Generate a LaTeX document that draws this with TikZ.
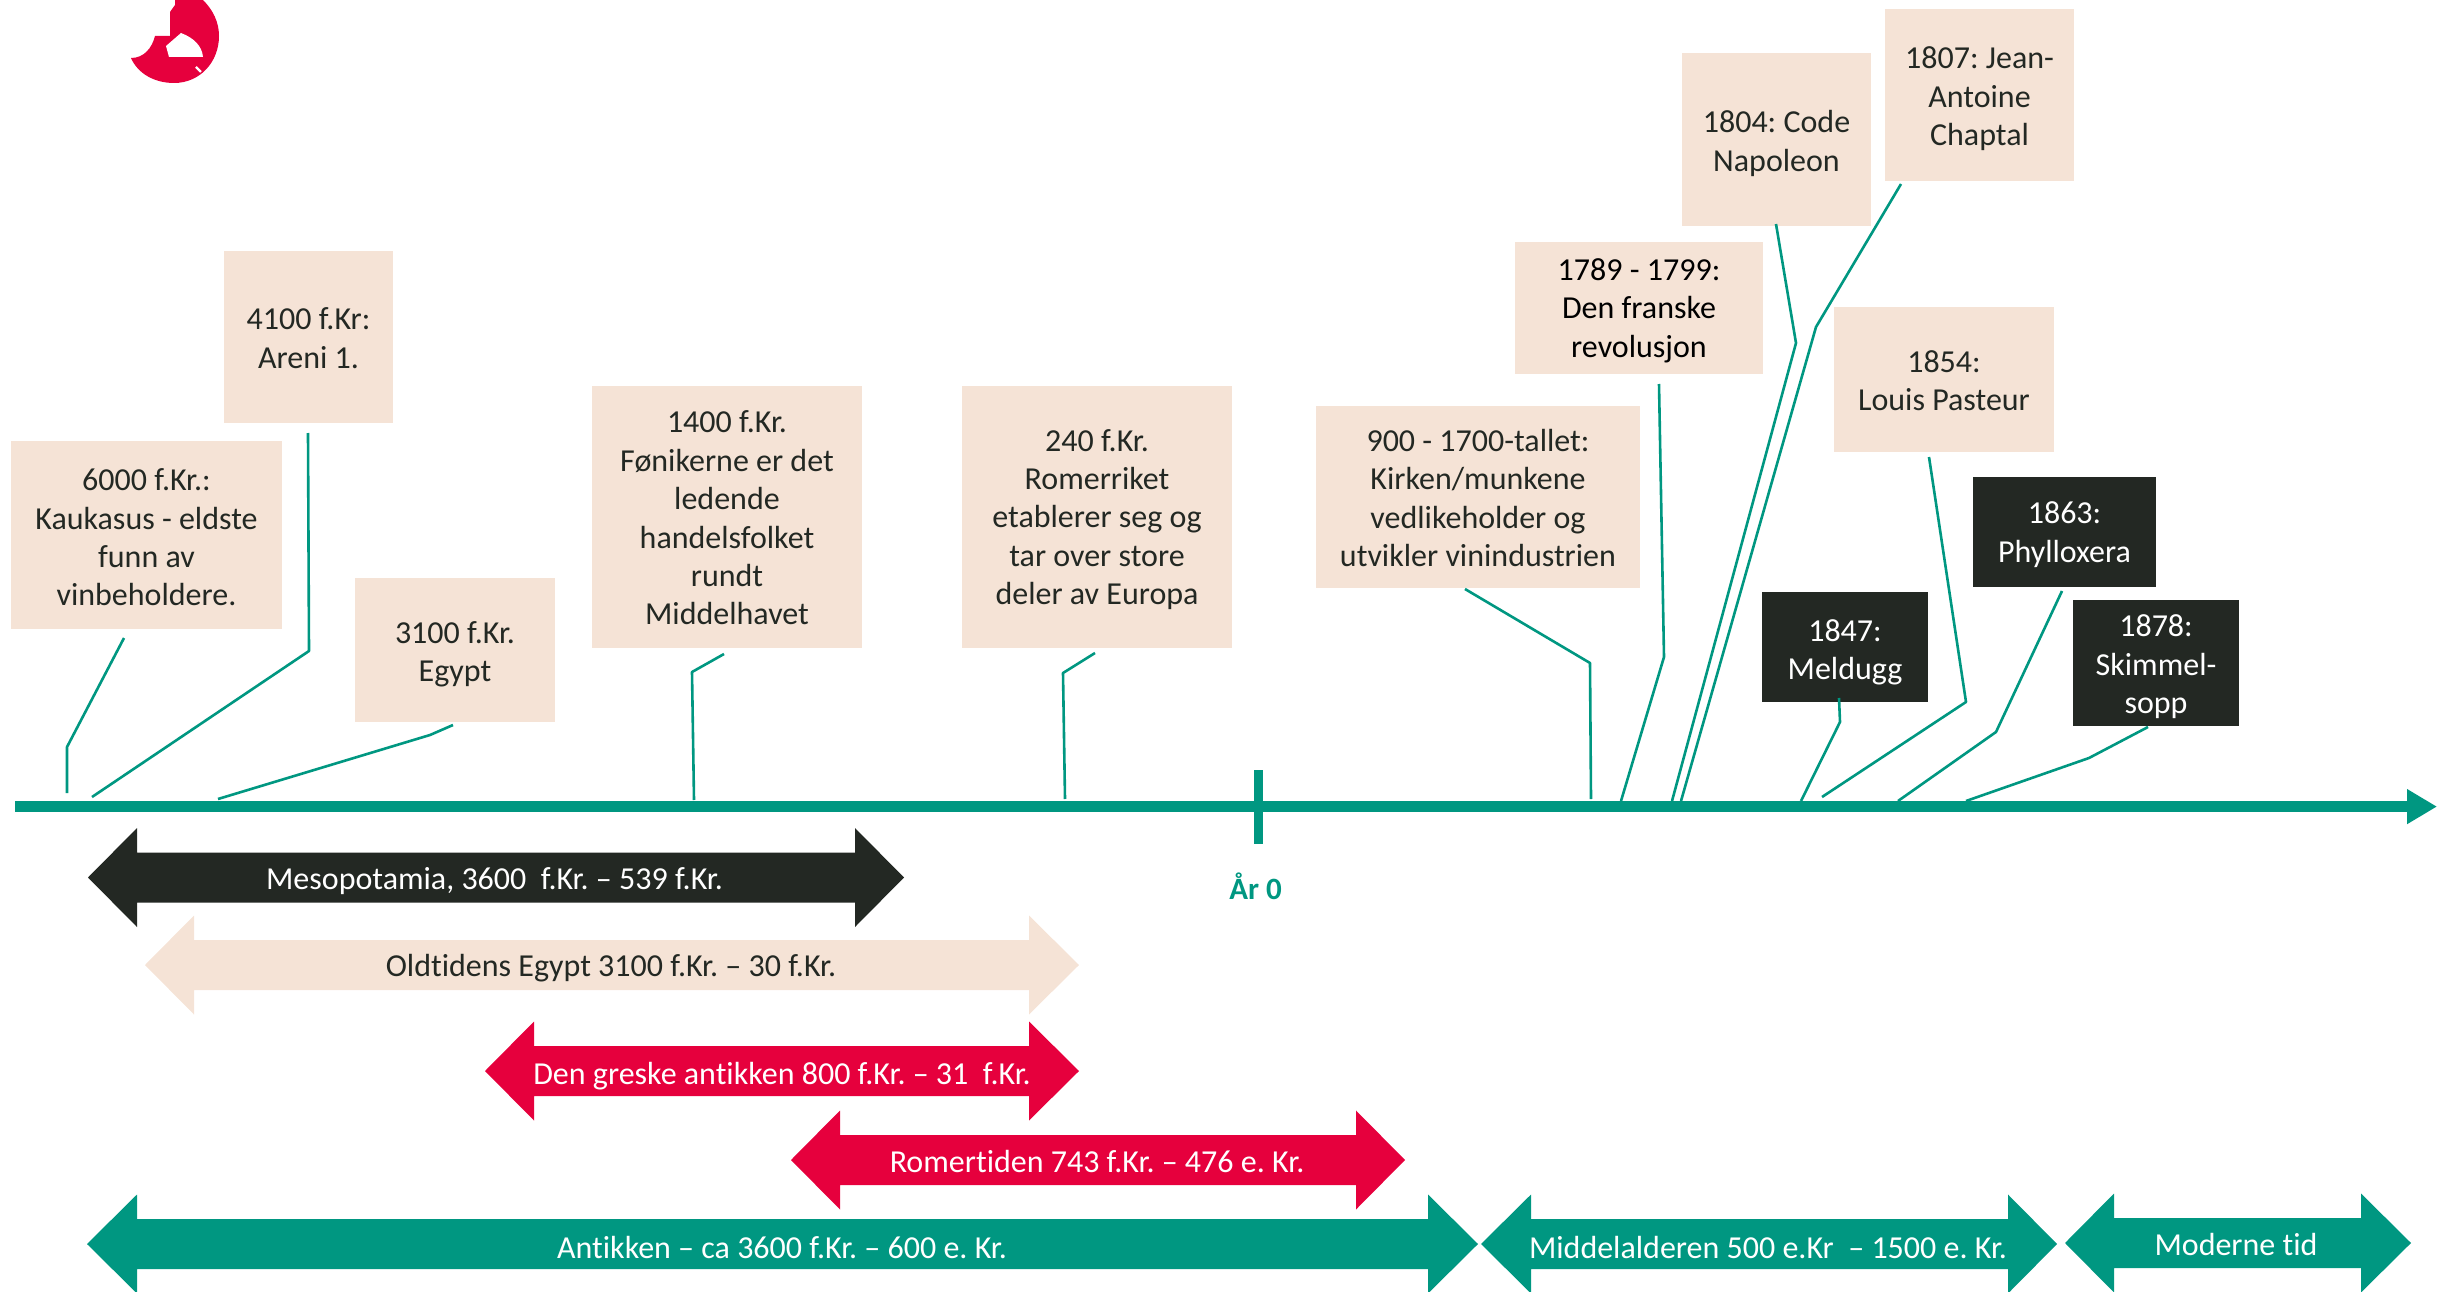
\documentclass[tikz,border=0pt]{standalone}
\usepackage{fontspec}
\setmainfont[RawFeature={-liga;-clig}]{Carlito}
\usetikzlibrary{arrows.meta}
\frenchspacing
\definecolor{cream}{HTML}{F5E3D6}
\definecolor{teal}{HTML}{009781}
\definecolor{wred}{HTML}{E6003D}
\definecolor{ink}{HTML}{232823}
\tikzset{
  card/.style={inner sep=0pt,align=center,font=\fontsize{32}{38.4}\selectfont},
  light/.style={card,text=ink},
  darkc/.style={card,text=white},
  leader/.style={draw=teal,line width=2.6pt,line join=round},
  barlabel/.style={inner sep=0pt,font=\fontsize{32}{38}\selectfont},
}
% name, x1, x2, y1, y2, style, fill, text offset, text
\newcommand{\cardbox}[9]{%
  \fill[#7] (#2,#4) rectangle (#3,#5);
  \node[#6] (#1) at ({(#2+#3)/2},{(#4+#5)/2+#8}) {#9};}
% name, tipL, baseL, baseR, tipR, cy, fill, textcolor, textx, texty, text
\newcommand{\spanbar}[9]{%
  \fill[#7] (#2,#6) -- (#3,#6-49.5) -- (#3,#6-25) -- (#4,#6-25) -- (#4,#6-49.5) -- (#5,#6)
     -- (#4,#6+49.5) -- (#4,#6+25) -- (#3,#6+25) -- (#3,#6+49.5) -- cycle;
  \def\barname{#1}\def\barcol{#8}\def\barpos{#9}\spanbarlabel}
\newcommand{\spanbarlabel}[1]{\node[barlabel,text=\barcol] (\barname) at (\barpos) {#1};}
\begin{document}
\begin{tikzpicture}[x=1pt,y=-1pt]
\useasboundingbox (0,0) rectangle (2437,1292);
% logo
\fill[wred] (175,0) -- (175,5) -- (170,12) -- (170,36) -- (155,36)
   .. controls (152,48) and (144,58) .. (131,58)
   .. controls (138,74) and (155,83) .. (174,83)
   .. controls (200,83) and (219,62) .. (219,36)
   .. controls (219,22) and (213,10) .. (203,0) -- cycle;
\fill[white] (181,33) -- (166,46) -- (169,57) -- (203,57)
   .. controls (202,46) and (194,38) .. (181,33) -- cycle;
\draw[white,line width=2.2pt] (196,67) -- (201,72);
% cards
\cardbox{c6000}{11}{282}{441}{629}{light}{cream}{2.5}{6000 f.Kr.:\\Kaukasus - eldste\\funn av\\vinbeholdere.}
\cardbox{c4100}{224}{393}{251}{423}{light}{cream}{1}{4100 f.Kr:\\Areni 1.}
\cardbox{c3100}{355}{555}{578}{722}{light}{cream}{4.5}{3100 f.Kr.\\Egypt}
\cardbox{c1400}{592}{862}{386}{648}{light}{cream}{1}{1400 f.Kr.\\Fønikerne er det\\ledende\\handelsfolket\\rundt\\Middelhavet}
\cardbox{c240}{962}{1232}{386}{648}{light}{cream}{2.5}{240 f.Kr.\\Romerriket\\etablerer seg og\\tar over store\\deler av Europa}
\cardbox{c900}{1316}{1640}{406}{588}{light}{cream}{1}{900 - 1700-tallet:\\Kirken/munkene\\vedlikeholder og\\utvikler vinindustrien}
\cardbox{c1789}{1515}{1763}{242}{374}{light,text=black}{cream}{2.5}{1789 - 1799:\\Den franske\\revolusjon}
\cardbox{c1804}{1682}{1871}{53}{226}{light}{cream}{4}{1804: Code\\Napoleon}
\cardbox{c1807}{1885}{2074}{9}{181}{light}{cream}{4}{1807: Jean-\\Antoine\\Chaptal}
\cardbox{c1854}{1834}{2054}{307}{452}{light}{cream}{1}{1854:\\Louis Pasteur}
\cardbox{c1847}{1762}{1928}{592}{702}{darkc}{ink}{5.5}{1847:\\Meldugg}
\cardbox{c1863}{1973}{2156}{477}{587}{darkc}{ink}{2.5}{1863:\\Phylloxera}
\cardbox{c1878}{2073}{2239}{600}{726}{darkc}{ink}{4}{1878:\\Skimmel-\\sopp}
% axis
\coordinate (axisS) at (15,806.6);
\coordinate (axisE) at (2437,806.6);
\draw[teal,line width=11.3pt,-{Triangle[length=30pt,width=33pt]}] (axisS) -- (axisE);
\coordinate (t0a) at (1258,770);
\coordinate (t0b) at (1258,844);
\draw[teal,line width=9pt] (t0a) -- (t0b);
\node[inner sep=0pt,text=teal,font=\fontsize{31}{36}\selectfont\bfseries] (year0) at (1255.5,886) {År 0};
% leaders
\foreach \n/\ax/\ay/\bx/\by/\cx/\cy in {
  l6000/124/638/67/747/67/793,
  l4100/308/433/309/651/92/797,
  l3100/453/725/430/735/218/799,
  l1400/724/654/692/672/694/800,
  l240/1095/653/1063/673/1065/799,
  l900/1465/589/1590/663/1591/799,
  l1789/1659/384/1664/657/1621/801,
  l1804/1776/224/1796/343/1672/801,
  l1807/1901/184/1816/327/1681/801,
  l1854/1929/457/1966/702/1822/797,
  l1847/1839/698/1840/722/1801/801,
  l1863/2062/591/1996/732/1898/801,
  l1878/2148/727/2089/758/1966/801}{
  \coordinate (\n a) at (\ax,\ay);
  \coordinate (\n b) at (\bx,\by);
  \coordinate (\n c) at (\cx,\cy);
  \draw[leader] (\n a) -- (\n b) -- (\n c);
}
% span bars
\spanbar{mesop}{88}{137}{855}{904}{877.5}{ink}{white}{494.5,881.5}{Mesopotamia, 3600\ \ f.Kr. – 539 f.Kr.}
\spanbar{egypt}{145}{194}{1029}{1079}{965}{cream}{ink}{611,968.5}{Oldtidens Egypt 3100 f.Kr. – 30 f.Kr.}
\spanbar{greek}{485}{534}{1029}{1079}{1071}{wred}{white}{782,1076}{Den greske antikken 800 f.Kr. – 31\ \ f.Kr.}
\spanbar{roman}{791}{840}{1356}{1405}{1160}{wred}{white}{1097,1162}{Romertiden 743 f.Kr. – 476 e. Kr.}
\spanbar{antik}{87}{137}{1428}{1478}{1244}{teal}{white}{782,1247.5}{Antikken – ca 3600 f.Kr. – 600 e. Kr.}
\spanbar{middel}{1481}{1531}{2008}{2057}{1244}{teal}{white}{1768,1247.5}{Middelalderen 500 e.Kr\ \ – 1500 e. Kr.}
\spanbar{modern}{2065}{2114}{2361}{2411}{1243}{teal}{white}{2236,1244.5}{Moderne tid}
\end{tikzpicture}
\end{document}
